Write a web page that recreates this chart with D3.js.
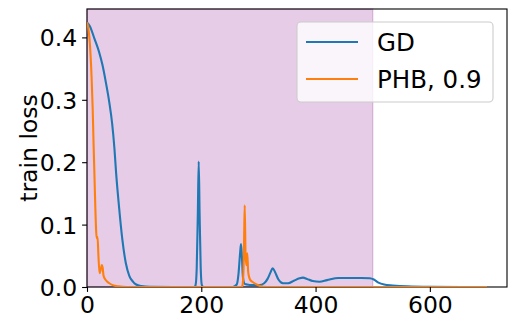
<!DOCTYPE html>
<html>
<head>
<meta charset="utf-8">
<style>
  body { margin: 0; background: #fff; }
  svg { font-family: "DejaVu Sans", sans-serif; }
</style>
</head>
<body>
<script src="https://d3js.org/d3.v7.min.js"></script>
<script>
// values
const gdX = [0, 5, 13, 21, 27, 33, 39, 44, 48, 51, 56, 62, 68, 74, 80, 86, 95, 110, 150,
  188, 190, 192, 194, 195.5, 197, 199, 201, 204, 255, 262, 265, 268, 269.5, 271, 273, 276,
  280, 290, 302, 310, 316, 321, 325, 329, 335, 343, 352, 362, 372, 378, 385, 395, 407,
  420, 440, 460, 480, 495, 502, 510, 520, 535, 560, 600, 700];
const gdY = [0.424, 0.418, 0.398, 0.377, 0.356, 0.328, 0.296, 0.262, 0.222, 0.182, 0.129, 0.075, 0.038, 0.018, 0.009, 0.004, 0.0015, 0.0003, 0,
  0, 0.003, 0.03, 0.12, 0.201, 0.12, 0.03, 0.003, 0, 0, 0.004, 0.02, 0.055, 0.069, 0.05, 0.015, 0.005,
  0.004, 0.003, 0.003, 0.006, 0.013, 0.023, 0.03, 0.024, 0.012, 0.006, 0.006, 0.01, 0.014, 0.015, 0.013, 0.0095, 0.0085,
  0.011, 0.0145, 0.0145, 0.0145, 0.014, 0.012, 0.007, 0.004, 0.0025, 0.001, 0.0003, 0];

const phbX = [0, 3, 5, 8, 10, 11.5, 13, 14.5, 16, 17, 18.5, 20, 22, 24, 26, 27.5, 29, 32, 35, 39, 45, 55, 70,
  270, 272, 274, 275, 276, 277.5, 279, 280.5, 282, 284, 286, 290, 295, 302, 315, 700];
const phbY = [0.424, 0.41, 0.39, 0.337, 0.284, 0.23, 0.18, 0.13, 0.09, 0.078, 0.08, 0.05, 0.022, 0.028, 0.035, 0.03, 0.018, 0.012, 0.009, 0.006, 0.003, 0.001, 0,
  0, 0.002, 0.03, 0.08, 0.131, 0.05, 0.035, 0.054, 0.025, 0.015, 0.011, 0.008, 0.005, 0.002, 0, 0];

const xTicks = [0, 200, 400, 600];
const yTicks = [0.0, 0.1, 0.2, 0.3, 0.4];
const spanRange = [0, 500];
const labels = ["GD", "PHB, 0.9"];
const colors = ["#1f77b4", "#ff7f0e"];

const W = 515, H = 329;
const m = { left: 87, right: 8, top: 9, bottom: 42 };
const pw = W - m.left - m.right, ph = H - m.top - m.bottom;

const svg = d3.select("body").append("svg").attr("width", W).attr("height", H);

const x = d3.scaleLinear().domain([0, 735]).range([m.left, m.left + pw]);
const y = d3.scaleLinear().domain([0, 0.4455]).range([m.top + ph, m.top]);

svg.append("defs").append("clipPath").attr("id", "clip")
  .append("rect").attr("x", m.left).attr("y", m.top).attr("width", pw).attr("height", ph);

// shaded region
svg.append("rect")
  .attr("x", x(spanRange[0])).attr("y", m.top)
  .attr("width", x(spanRange[1]) - x(spanRange[0])).attr("height", ph)
  .attr("fill", "purple").attr("fill-opacity", 0.2)
  .attr("stroke", "purple").attr("stroke-opacity", 0.2).attr("stroke-width", 1.4);

// axes
const fs = 23.5;
const xAxis = svg.append("g").attr("transform", `translate(0,${m.top + ph})`)
  .call(d3.axisBottom(x).tickValues(xTicks).tickFormat(d3.format("d")).tickSizeInner(4.9).tickSizeOuter(0).tickPadding(4.9));
const yAxis = svg.append("g").attr("transform", `translate(${m.left},0)`)
  .call(d3.axisLeft(y).tickValues(yTicks).tickFormat(d3.format(".1f")).tickSizeInner(4.9).tickSizeOuter(0).tickPadding(4.9));
[xAxis, yAxis].forEach(g => {
  g.select(".domain").remove();
  g.selectAll("line").attr("stroke", "#000").attr("stroke-width", 1.1);
  g.selectAll("text").attr("font-size", fs).attr("fill", "#000").attr("font-family", "DejaVu Sans");
});
xAxis.selectAll("text").attr("dy", "0.71em");
yAxis.selectAll("text").attr("dy", "0.36em");

// frame
svg.append("rect").attr("x", m.left).attr("y", m.top).attr("width", pw).attr("height", ph)
  .attr("fill", "none").attr("stroke", "#000").attr("stroke-width", 1.1);

// lines
const series = [gdX.map((v, i) => [v, gdY[i]]), phbX.map((v, i) => [v, phbY[i]])];
const line = d3.line().x(d => x(d[0])).y(d => y(d[1])).curve(d3.curveMonotoneX);
const lg = svg.append("g").attr("clip-path", "url(#clip)");
series.forEach((s, i) => {
  lg.append("path").datum(s).attr("d", line)
    .attr("fill", "none").attr("stroke", colors[i]).attr("stroke-width", 2.1)
    .attr("stroke-linejoin", "round");
});

// y label
svg.append("text")
  .attr("transform", `translate(36.5,${m.top + ph / 2}) rotate(-90)`)
  .attr("text-anchor", "middle").attr("font-size", fs).attr("fill", "#000")
  .text("train loss");

// legend
const leg = svg.append("g");
leg.append("rect").attr("x", 297).attr("y", 22).attr("width", 196).attr("height", 80)
  .attr("rx", 4).attr("fill", "#fff").attr("fill-opacity", 0.8)
  .attr("stroke", "#ccc").attr("stroke-width", 1.1);
labels.forEach((t, i) => {
  const ly = 42 + i * 37;
  leg.append("line").attr("x1", 306).attr("x2", 358).attr("y1", ly).attr("y2", ly)
    .attr("stroke", colors[i]).attr("stroke-width", 2.1);
  leg.append("text").attr("x", 377).attr("y", ly + 9).attr("font-size", 24.5)
    .attr("fill", "#000").text(t);
});
</script>
</body>
</html>
